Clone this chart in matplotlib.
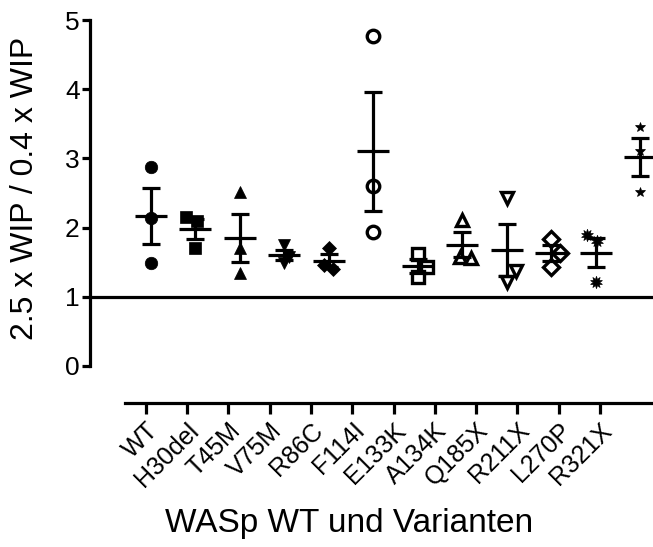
import numpy as np
import matplotlib
matplotlib.use('Agg')
import matplotlib.pyplot as plt

plt.rcParams['font.family'] = ['Liberation Sans', 'DejaVu Sans']

# variants on the x axis
variants = ['WT', 'H30del', 'T45M', 'V75M', 'R86C', 'F114I',
            'E133K', 'A134K', 'Q185X', 'R211X', 'L270P', 'R321X']

# ratio 2.5 x WIP / 0.4 x WIP, three measurements per variant
wt = [2.87, 2.14, 1.49]
h30del = [2.15, 2.09, 1.70]
t45m = [2.52, 1.70, 1.35]
v75m = [1.75, 1.58, 1.49]
r86c = [1.71, 1.46, 1.40]
f114i = [4.77, 2.60, 1.93]
e133k = [1.62, 1.43, 1.28]
a134k = [2.11, 1.58, 1.56]
q185x = [2.43, 1.38, 1.22]
r211x = [1.83, 1.63, 1.43]
l270p = [1.89, 1.80, 1.22]
r321x = [3.45, 3.10, 2.52]

values = [wt, h30del, t45m, v75m, r86c, f114i,
          e133k, a134k, q185x, r211x, l270p, r321x]

# horizontal spread of overlapping points (scatter dot plot style)
spread = [[0, 0, 0], [-0.2, 0.05, 0], [0, 0, 0], [0, 0.1, 0],
          [0, -0.1, 0.1], [0, 0, 0], [0, 0.2, 0], [0, -0.05, 0.2],
          [0, 0.2, 0], [0, 0.2, 0], [-0.2, 0.02, 0], [0, 0, 0]]

# marker, filled?
styles = [('o', True), ('s', True), ('^', True), ('v', True), ('D', True),
          ('o', False), ('s', False), ('^', False), ('v', False), ('D', False),
          ((10, 1, 0), True), ('*', True)]
sizes = [9, 8.5, 8.5, 8.5, 7.5, 9, 9, 9, 9, 8, 9, 7.5]

LW = 2.3

fig = plt.figure(figsize=(6.53, 5.47), dpi=100)
ax = fig.add_axes([0.1378, 0.3309, 0.8622, 0.6325])

for i, vals in enumerate(values):
    vals = np.array(vals)
    mean = vals.mean()
    sem = vals.std(ddof=1) / np.sqrt(len(vals))
    mk, filled = styles[i]
    xs = i + np.array(spread[i])
    ax.plot(xs, vals, linestyle='none', marker=mk, markersize=sizes[i],
            color='black', markerfacecolor='black' if filled else 'white',
            markeredgewidth=0.5 if filled else 2.4, clip_on=False, zorder=3)
    ax.errorbar(i, mean, yerr=sem, fmt='none', ecolor='black', elinewidth=LW,
                capsize=6.3, capthick=LW, zorder=4)
    ax.hlines(mean, i - 0.36, i + 0.36, color='black', linewidth=LW, zorder=4)

ax.axhline(1, color='black', linewidth=LW, zorder=2)

ax.set_xlim(-1.364, 11.288)
ax.set_ylim(0, 5)
ax.set_yticks(range(6))
ax.set_xticks([])
ax.spines['top'].set_visible(False)
ax.spines['right'].set_visible(False)
ax.spines['bottom'].set_visible(False)
ax.spines['left'].set_linewidth(LW)
ax.spines['left'].set_bounds(0, 5)
ax.tick_params(axis='y', length=6, width=LW, pad=1.5, labelsize=19)
ax.set_ylabel('2.5 x WIP / 0.4 x WIP', fontsize=23)
ax.yaxis.set_label_coords(-0.089, 0.513)

# separate category axis below the data area
ax2 = fig.add_axes([0.1378, 0.3309, 0.8622, 0.6325])
ax2.patch.set_visible(False)
for s in ['top', 'right', 'left']:
    ax2.spines[s].set_visible(False)
ax2.set_yticks([])
ax2.set_xlim(-1.349, 12.283)
ax2.spines['bottom'].set_position(('outward', 26.6))
ax2.spines['bottom'].set_linewidth(LW)
ax2.spines['bottom'].set_bounds(-0.5, 12.283)
ax2.set_xticks(range(len(variants)))
ax2.set_xticklabels(variants, rotation=45, ha='right', va='top',
                    rotation_mode='anchor', fontsize=18)
ax2.tick_params(axis='x', length=8, width=LW, pad=3)
ax2.set_xlabel('WASp WT und Varianten', fontsize=24)
ax2.xaxis.set_label_coords(0.46, -0.41)

plt.savefig('out.png', dpi=100)
